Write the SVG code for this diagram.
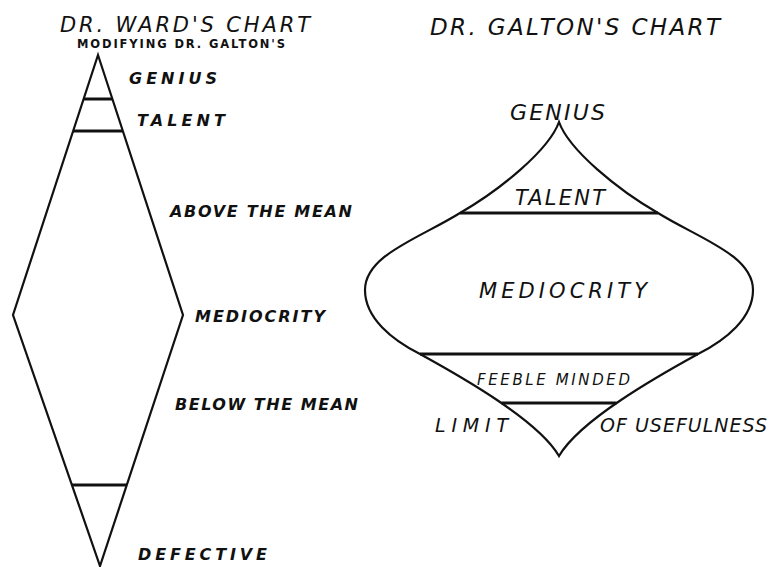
<svg xmlns="http://www.w3.org/2000/svg" width="769" height="567" viewBox="0 0 769 567">
<style>
  .bg { fill: #ffffff; }
  .outline { fill: none; stroke: #111; stroke-width: 2.2; stroke-linejoin: miter; }
  .div { stroke: #111; stroke-width: 3; }
  .t { font-family: "DejaVu Sans", "Liberation Sans", sans-serif; font-style: italic; fill: #111; }
  .title { font-size: 21px; }
  .sub { font-size: 11.5px; font-weight: bold; font-style: normal; }
  .lab { font-size: 16px; font-weight: bold; }
  .glab { font-size: 21px; }
</style>
<rect class="bg" x="0" y="0" width="769" height="567"/>

<g id="ward-chart">
  <g id="ward-title">
    <text class="t title" x="60" y="32" textLength="250" lengthAdjust="spacing">DR. WARD'S CHART</text>
    <text class="t sub" x="77" y="48" textLength="208" lengthAdjust="spacing">MODIFYING DR. GALTON'S</text>
  </g>
  <g id="ward-shape">
    <polygon class="outline" points="98,55 183,315 100,566 13,315"/>
    <line class="div" x1="83.6" y1="99" x2="112.4" y2="99"/>
    <line class="div" x1="73.2" y1="131" x2="122.8" y2="131"/>
    <line class="div" x1="71.9" y1="485" x2="126.8" y2="485"/>
  </g>
  <g id="ward-genius"><text class="t lab" x="129" y="84" textLength="88" lengthAdjust="spacing">GENIUS</text></g>
  <g id="ward-talent"><text class="t lab" x="137" y="126" textLength="88" lengthAdjust="spacing">TALENT</text></g>
  <g id="ward-above"><text class="t lab" x="170" y="217" textLength="182" lengthAdjust="spacing">ABOVE THE MEAN</text></g>
  <g id="ward-mediocrity"><text class="t lab" x="195" y="322" textLength="130" lengthAdjust="spacing">MEDIOCRITY</text></g>
  <g id="ward-below"><text class="t lab" x="175" y="410" textLength="183" lengthAdjust="spacing">BELOW THE MEAN</text></g>
  <g id="ward-defective"><text class="t lab" x="138" y="560" textLength="129" lengthAdjust="spacing">DEFECTIVE</text></g>
</g>

<g id="galton-chart">
  <g id="galton-title">
    <text class="t title" x="430" y="35" textLength="290" lengthAdjust="spacing" style="font-size:23px">DR. GALTON'S CHART</text>
  </g>
  <g id="galton-shape">
    <path class="outline" d="M559,122 C549,150 500,190 460,213 C420,238 365,255 365,290 C365,318 392,340 420,354 C460,376 538,420 559,456 C580,420 658,376 698,354 C726,340 753,318 753,290 C753,255 698,238 658,213 C618,190 569,150 559,122 Z"/>
    <line class="div" x1="460" y1="213" x2="658" y2="213"/>
    <line class="div" x1="420" y1="354" x2="698" y2="354"/>
    <line class="div" x1="501.5" y1="403" x2="616.5" y2="403"/>
  </g>
  <g id="galton-genius"><text class="t glab" x="510" y="120" textLength="95" lengthAdjust="spacing" style="font-size:22px">GENIUS</text></g>
  <g id="galton-talent"><text class="t glab" x="515" y="205" textLength="90" lengthAdjust="spacing">TALENT</text></g>
  <g id="galton-mediocrity"><text class="t glab" x="479" y="298" textLength="168" lengthAdjust="spacing">MEDIOCRITY</text></g>
  <g id="galton-feeble"><text class="t glab" x="477" y="385" textLength="153" lengthAdjust="spacing" style="font-size:15px">FEEBLE MINDED</text></g>
  <g id="galton-limit"><text class="t glab" x="435" y="432" textLength="73" lengthAdjust="spacing" style="font-size:19px">LIMIT</text></g>
  <g id="galton-usefulness"><text class="t glab" x="600" y="432" textLength="167" lengthAdjust="spacing" style="font-size:19px">OF USEFULNESS</text></g>
</g>
</svg>
